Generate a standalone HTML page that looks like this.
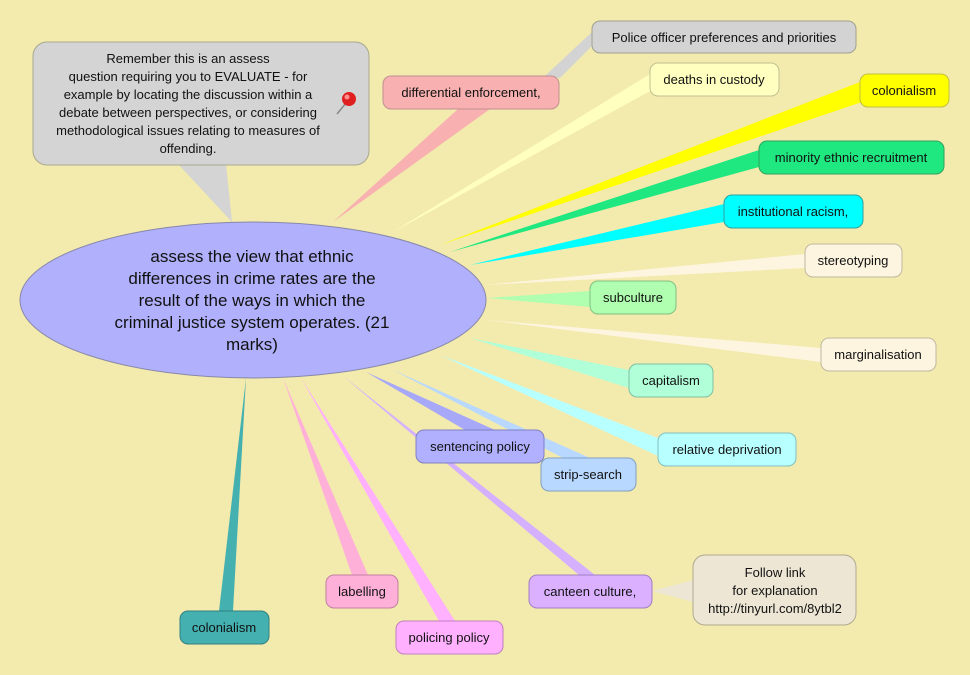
<!DOCTYPE html>
<html><head><meta charset="utf-8"><style>
body{margin:0;background:#f3eaae;}
svg{display:block;font-family:"Liberation Sans",sans-serif;}
</style></head><body>
<svg width="970" height="675" viewBox="0 0 970 675" xmlns="http://www.w3.org/2000/svg">
<rect width="970" height="675" fill="#f3eaae"/>
<!-- connectors -->
<polygon points="545,76 592,32 592,46 560,78" fill="#d3d3d3"/>
<polygon points="333,222 458,109 490,109" fill="#f8b0b0"/>
<polygon points="393,232 650,74 652,90" fill="#ffffc0"/>
<polygon points="440,245 860,82 862,102" fill="#ffff00"/>
<polygon points="450,252 759,150 759,167" fill="#20e880"/>
<polygon points="470,265 724,204 724,222" fill="#00ffff"/>
<polygon points="485,285 805,254 805,268" fill="#fdf5e0"/>
<polygon points="487,298 590,291 590,307" fill="#b0ffb0"/>
<polygon points="487,320 821,348 821,362" fill="#fdf5e0"/>
<polygon points="470,338 629,370 629,388" fill="#b0ffd8"/>
<polygon points="440,355 658,438 658,456" fill="#b8ffff"/>
<polygon points="366,372 465,430 495,430" fill="#a8a8f8"/>
<polygon points="393,370 563,458 590,458" fill="#b8d8ff"/>
<polygon points="343,376 579,575 595,575" fill="#d4b0ff"/>
<polygon points="246,378 219,611 233,611" fill="#44b0b0"/>
<polygon points="283,378 352,575 368,575" fill="#ffb0d8"/>
<polygon points="301,378 439,621 455,621" fill="#ffb0ff"/>
<polygon points="652,591 693,580 693,602" fill="#ede6d4"/>
<polygon points="178,164 226,164 232,222" fill="#d4d4d4"/>
<!-- callout -->
<rect x="33" y="42" width="336" height="123" rx="14" fill="#d4d4d4" stroke="#a8a890"/>
<g font-size="13" fill="#111" text-anchor="middle">
<text x="188" y="63">Remember this is an assess</text>
<text x="188" y="81">question requiring you to EVALUATE - for</text>
<text x="188" y="99">example by locating the discussion within a</text>
<text x="188" y="117">debate between perspectives, or considering</text>
<text x="188" y="135">methodological issues relating to measures of</text>
<text x="188" y="153">offending.</text>
</g>
<line x1="337" y1="114" x2="346" y2="103" stroke="#888" stroke-width="1.5"/>
<circle cx="349" cy="99" r="7" fill="#e02020"/>
<circle cx="347" cy="97" r="2.5" fill="#ff9090"/>
<!-- ellipse -->
<ellipse cx="253" cy="300" rx="233" ry="78" fill="#b0b0fc" stroke="#8888aa"/>
<g font-size="17" fill="#111" text-anchor="middle">
<text x="252" y="262">assess the view that ethnic</text>
<text x="252" y="284">differences in crime rates are the</text>
<text x="252" y="306">result of the ways in which the</text>
<text x="252" y="328">criminal justice system operates. (21</text>
<text x="252" y="350">marks)</text>
</g>
<!-- nodes -->
<g font-size="13" fill="#111" text-anchor="middle" stroke-width="1">
<rect x="592" y="21" width="264" height="32" rx="8" fill="#d3d3d3" stroke="#a0a090"/><text x="724" y="42">Police officer preferences and priorities</text>
<rect x="383" y="76" width="176" height="33" rx="8" fill="#f8b0b0" stroke="#c09090"/><text x="471" y="97">differential enforcement,</text>
<rect x="650" y="63" width="129" height="33" rx="8" fill="#ffffc0" stroke="#c0c090"/><text x="714" y="84">deaths in custody</text>
<rect x="860" y="74" width="89" height="33" rx="8" fill="#ffff00" stroke="#c0c040"/><text x="904" y="95">colonialism</text>
<rect x="759" y="141" width="185" height="33" rx="8" fill="#20e880" stroke="#30a060"/><text x="851" y="162">minority ethnic recruitment</text>
<rect x="724" y="195" width="139" height="33" rx="8" fill="#00ffff" stroke="#30a0a0"/><text x="793" y="216">institutional racism,</text>
<rect x="805" y="244" width="97" height="33" rx="8" fill="#fdf5e0" stroke="#c0b8a0"/><text x="853" y="265">stereotyping</text>
<rect x="590" y="281" width="86" height="33" rx="8" fill="#b0ffb0" stroke="#80c080"/><text x="633" y="302">subculture</text>
<rect x="821" y="338" width="115" height="33" rx="8" fill="#fdf5e0" stroke="#c0b8a0"/><text x="878" y="359">marginalisation</text>
<rect x="629" y="364" width="84" height="33" rx="8" fill="#b0ffd8" stroke="#80c0a0"/><text x="671" y="385">capitalism</text>
<rect x="658" y="433" width="138" height="33" rx="8" fill="#b8ffff" stroke="#80c0c0"/><text x="727" y="454">relative deprivation</text>
<rect x="416" y="430" width="128" height="33" rx="8" fill="#b0b0ff" stroke="#8080c0"/><text x="480" y="451">sentencing policy</text>
<rect x="541" y="458" width="95" height="33" rx="8" fill="#b8d8ff" stroke="#80a0c0"/><text x="588" y="479">strip-search</text>
<rect x="529" y="575" width="123" height="33" rx="8" fill="#dab0ff" stroke="#a080c0"/><text x="590" y="596">canteen culture,</text>
<rect x="326" y="575" width="72" height="33" rx="8" fill="#ffb0d8" stroke="#c080a0"/><text x="362" y="596">labelling</text>
<rect x="396" y="621" width="107" height="33" rx="8" fill="#ffb0ff" stroke="#c080c0"/><text x="449" y="642">policing policy</text>
<rect x="180" y="611" width="89" height="33" rx="8" fill="#44b0b0" stroke="#308080"/><text x="224" y="632">colonialism</text>
<rect x="693" y="555" width="163" height="70" rx="12" fill="#ede6d4" stroke="#b0a890"/>
<text x="775" y="577">Follow link</text>
<text x="775" y="595">for explanation</text>
<text x="775" y="613">http://tinyurl.com/8ytbl2</text>
</g>
</svg>
</body></html>
